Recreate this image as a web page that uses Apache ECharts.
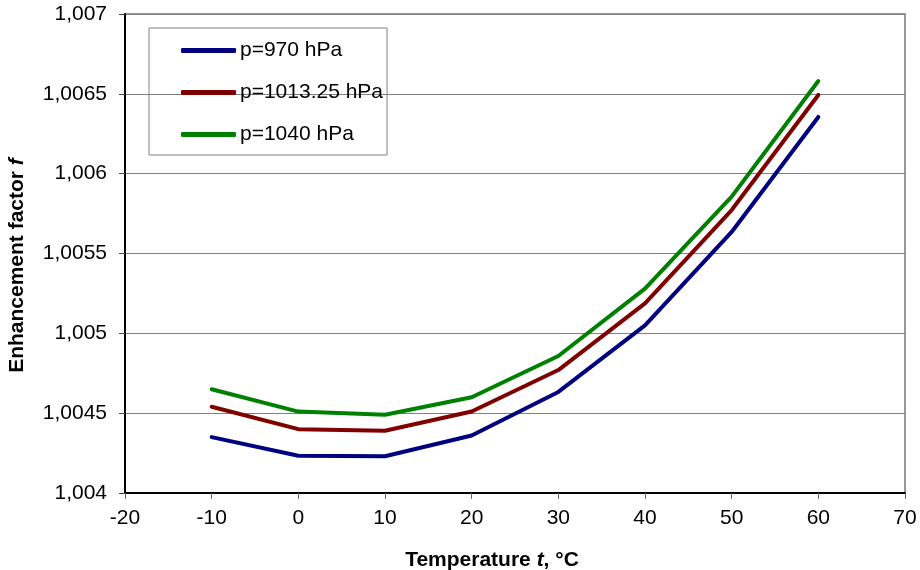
<!DOCTYPE html>
<html>
<head>
<meta charset="utf-8">
<script src="https://cdn.jsdelivr.net/npm/echarts@6/dist/echarts.min.js"></script>
<style>
  html, body { margin: 0; padding: 0; background: #fff; }
  #chart { width: 920px; height: 570px; }
</style>
</head>
<body>
<div id="chart"></div>
<script>
// 温度 (°C)
const temps = [-10, 0, 10, 20, 30, 40, 50, 60];
// enhancement factor f for each pressure
const p970 = [1.00435, 1.004233, 1.00423, 1.00436, 1.004633, 1.00505, 1.005635, 1.006355];
const p1013 = [1.00454, 1.0044, 1.00439, 1.00451, 1.00477, 1.005188, 1.005772, 1.006493];
const p1040 = [1.00465, 1.00451, 1.00449, 1.0046, 1.004858, 1.00528, 1.005856, 1.00658];
const seriesNames = ['p=970 hPa', 'p=1013.25 hPa', 'p=1040 hPa'];
const seriesColors = ['#000080', '#800000', '#008000'];

const FONT = '"Liberation Sans", Arial, sans-serif';

function toPairs(values) {
    return temps.map((t, i) => [t, values[i]]);
}

function buildSeries(name, values, color) {
    return {
        name: name,
        type: 'line',
        data: toPairs(values),
        symbol: 'none',
        smooth: false,
        lineStyle: { color: color, width: 4, cap: 'round', join: 'round' },
        itemStyle: { color: color }
    };
}

const chart = echarts.init(document.getElementById('chart'));

chart.setOption({
    animation: false,
    backgroundColor: '#fff',
    textStyle: { fontFamily: FONT },
    grid: {
        left: 125, top: 14, right: 15, bottom: 77,
        outerBoundsMode: 'none',
        containLabel: false,
        show: true, borderColor: '#999', borderWidth: 2
    },
    legend: {
        orient: 'vertical',
        left: 149, top: 28,
        padding: [12, 4, 10, 32],
        itemGap: 21,
        itemWidth: 55,
        itemHeight: 5,
        icon: 'roundRect',
        borderColor: '#808080',
        borderWidth: 1,
        textStyle: { fontSize: 21, color: '#000', fontFamily: FONT, padding: [0, 0, 0, -1] },
        data: seriesNames
    },
    xAxis: {
        type: 'value',
        min: -20, max: 70, interval: 10,
        name: 'Temperature {i|t}, °C',
        nameLocation: 'middle',
        nameGap: 57,
        nameTextStyle: {
            fontSize: 21, fontWeight: 'bold', color: '#000', fontFamily: FONT,
            padding: [0, 46, 0, 0],
            rich: { i: { fontSize: 21, fontWeight: 'bold', fontStyle: 'italic', color: '#000', fontFamily: FONT } }
        },
        axisLine: { show: true, onZero: false, lineStyle: { color: '#000', width: 2 } },
        axisTick: { show: true, inside: false, length: 6, lineStyle: { color: '#666' } },
        axisLabel: { fontSize: 21, color: '#000', margin: 15 },
        splitLine: { show: false }
    },
    yAxis: {
        type: 'value',
        min: 1.004, max: 1.007, interval: 0.0005,
        name: 'Enhancement factor {i|f}',
        nameLocation: 'middle',
        nameGap: 97,
        nameTextStyle: {
            fontSize: 21, fontWeight: 'bold', color: '#000', fontFamily: FONT,
            padding: [0, 24, 0, 0],
            rich: { i: { fontSize: 21, fontWeight: 'bold', fontStyle: 'italic', color: '#000', fontFamily: FONT } }
        },
        axisLine: { show: true, onZero: false, lineStyle: { color: '#000', width: 2 } },
        axisTick: { show: true, inside: false, length: 6, lineStyle: { color: '#444' } },
        axisLabel: {
            fontSize: 21, color: '#000', margin: 18,
            formatter: (v) => v.toFixed(4).replace(/0+$/, '').replace('.', ',')
        },
        splitLine: { show: true, lineStyle: { color: '#808080', width: 1 } }
    },
    series: [
        buildSeries(seriesNames[0], p970, seriesColors[0]),
        buildSeries(seriesNames[1], p1013, seriesColors[1]),
        buildSeries(seriesNames[2], p1040, seriesColors[2])
    ]
});
</script>
</body>
</html>
